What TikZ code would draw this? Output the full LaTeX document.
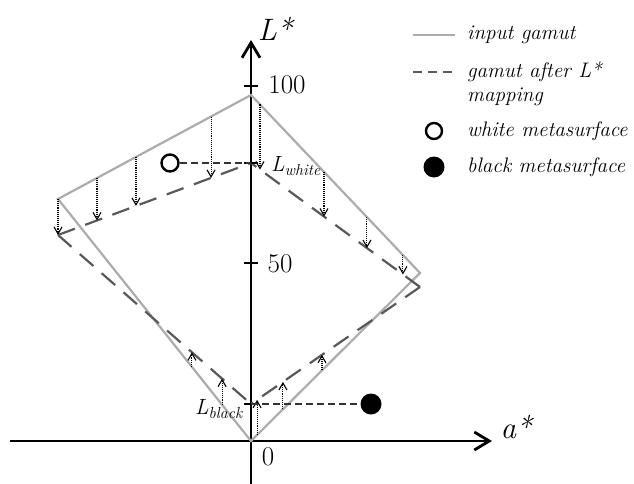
\documentclass[tikz,border=0pt]{standalone}
\usetikzlibrary{arrows.meta,calc}
\begin{document}
\begin{tikzpicture}[x=1pt,y=-1pt,
  axisline/.style={line width=2.8pt,black},
  inputg/.style={line width=2.2pt,gray!65},
  mappedg/.style={line width=2.2pt,black!65,dash pattern=on 18pt off 11pt},
  arr/.style={line width=1.1pt,densely dotted,-{Straight Barb[length=7pt,width=8pt,line width=1.1pt]}},
  conn/.style={line width=1.5pt,black!80,dash pattern=on 7pt off 4pt},
  tickm/.style={line width=2.6pt},
  num/.style={font=\fontsize{27}{29}\selectfont,inner sep=0pt},
  axlab/.style={font=\fontsize{31}{33}\selectfont\itshape,inner sep=0pt},
  leg/.style={font=\fontsize{21}{23}\selectfont\itshape,anchor=west,inner sep=0pt},
  wcirc/.style={circle,draw,line width=2.4pt,minimum size=17pt,inner sep=0pt},
  bcirc/.style={circle,fill=black,minimum size=21pt,inner sep=0pt}]
\useasboundingbox (0,0) rectangle (634,484);
% axes
\coordinate (yb) at (251,484);
\coordinate (yt) at (251,40);
\coordinate (xl) at (10,441);
\coordinate (xr) at (492,441);
\draw[axisline,-{Straight Barb[length=15pt,width=18pt,line width=2.8pt]}] (yb) -- (yt);
\draw[axisline,-{Straight Barb[length=15pt,width=18pt,line width=2.8pt]}] (xl) -- (xr);
% ticks
\coordinate (t100) at (251,86);
\coordinate (t50) at (251,263);
\draw[tickm] ($(t100)+(-7,0)$) -- ($(t100)+(7,0)$);
\draw[tickm] ($(t50)+(-7,0)$) -- ($(t50)+(7,0)$);
\node[num] (n100) at (287,85) {100};
\node[num] (n50) at (280,264) {50};
\node[num] (n0) at (268,457) {0};
\node[axlab] (Lstar) at (275,29) {L*};
\node[axlab] (astar) at (516,427) {a*};
% input gamut
\coordinate (T) at (251,95);
\coordinate (Lv) at (58,199);
\coordinate (R) at (420,273);
\coordinate (B) at (251,441);
\draw[inputg,line join=miter] (T) -- (R) -- (B) -- (Lv) -- cycle;
% mapped gamut
\coordinate (Tm) at (251,163);
\coordinate (Lm) at (58,235);
\coordinate (Rm) at (420,287);
\coordinate (Bm) at (251,404);
\draw[mappedg] (Lm) -- (Tm);
\draw[mappedg] (Lm) -- (Bm);
\draw[mappedg] (Rm) -- (Tm);
\draw[mappedg] (Rm) -- (Bm);
% L ticks
\draw[tickm] ($(Tm)+(-7,0)$) -- ($(Tm)+(7,0)$);
\draw[tickm] ($(Bm)+(-7,0)$) -- ($(Bm)+(7,0)$);
% dotted arrows (down)
\foreach \t [count=\i] in {0,0.202,0.404,0.793}{
  \coordinate (a\i) at ($(Lv)!\t!(T)$);
  \coordinate (b\i) at ($(Lm)!\t!(Tm)$);
  \draw[arr] (a\i) -- (b\i);
}
\foreach \t [count=\i] in {0.053,0.432,0.686,0.899}{
  \coordinate (c\i) at ($(T)!\t!(R)$);
  \coordinate (d\i) at ($(Tm)!\t!(Rm)$);
  \draw[arr] (c\i) -- (d\i);
}
% dotted arrows (up)
\foreach \t [count=\i] in {0.150,0.306}{
  \coordinate (e\i) at ($(B)!\t!(Lv)$);
  \coordinate (f\i) at ($(Bm)!\t!(Lm)$);
  \draw[arr] (e\i) -- (f\i);
}
\foreach \t [count=\i] in {0.036,0.189,0.420}{
  \coordinate (g\i) at ($(B)!\t!(R)$);
  \coordinate (h\i) at ($(Bm)!\t!(Rm)$);
  \draw[arr] (g\i) -- (h\i);
}
% metasurfaces
\node[wcirc] (wm) at (170,163) {};
\node[bcirc] (bm) at (371,404) {};
\draw[conn] (wm) -- (Tm);
\draw[conn] (Bm) -- (bm);
% labels
\node[inner sep=0pt,anchor=west,font=\fontsize{22}{24}\selectfont\itshape] (lw) at (271,166) {L\textsubscript{\fontsize{16}{17}\selectfont white}};
\node[inner sep=0pt,anchor=east,font=\fontsize{22}{24}\selectfont\itshape] (lb) at (243,409) {L\textsubscript{\fontsize{16}{17}\selectfont black}};
% legend
\coordinate (l1a) at (413,35); \coordinate (l1b) at (455,35);
\draw[inputg] (l1a) -- (l1b);
\node[leg] (t1) at (467,35) {input gamut};
\coordinate (l2a) at (413,72); \coordinate (l2b) at (455,72);
\draw[line width=2pt,black!65,dash pattern=on 9pt off 6pt] (l2a) -- (l2b);
\node[leg] (t2) at (467,72) {gamut after L*};
\node[leg] (t3) at (467,97) {mapping};
\node[wcirc,minimum size=16pt] (lwc) at (434,131) {};
\node[leg] (t4) at (467,131) {white metasurface};
\node[bcirc] (lbc) at (434,167) {};
\node[leg] (t5) at (467,167) {black metasurface};
\end{tikzpicture}
\end{document}
